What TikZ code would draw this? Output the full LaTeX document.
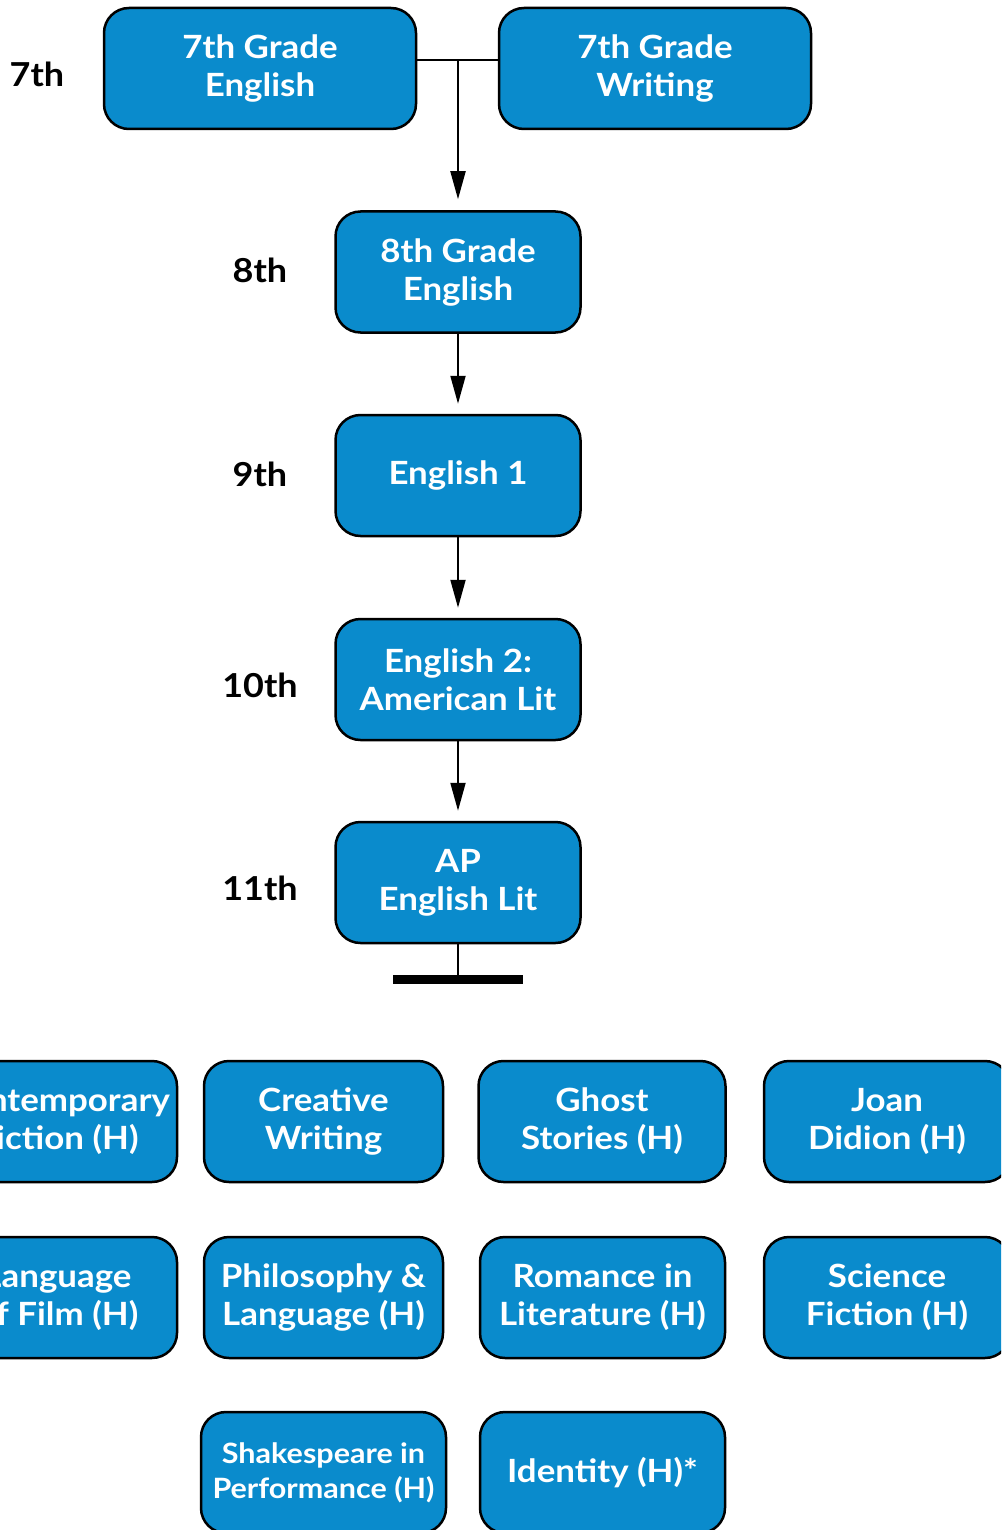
\documentclass[tikz,border=0pt]{standalone}
\usepackage{fontspec}
\setmainfont{Lato}[FakeStretch=1.09]
\usepackage{tikz}
\usetikzlibrary{arrows.meta}
\definecolor{courseblue}{RGB}{10,139,204}

\begin{document}
\begin{tikzpicture}[x=1pt, y=-1pt,
    course/.style={draw=black, line width=2.5pt, fill=courseblue, rounded corners=25pt,
      text=white, align=center, inner sep=0pt,
      font=\fontsize{32}{38}\selectfont\bfseries},
    grade/.style={font=\fontsize{33}{38}\selectfont\bfseries},
    flow/.style={line width=2pt, -{Triangle[length=28pt, width=15pt]}}]

  \clip (0,0) rectangle (1001,1530);

  %% grade labels
  \node[grade] (g7)  at (37,74)   {7th};
  \node[grade] (g8)  at (260,270) {8th};
  \node[grade] (g9)  at (260,474) {9th};
  \node[grade] (g10) at (260,685) {10th};
  \node[grade] (g11) at (260,888) {11th};

  %% required sequence
  \node[course, minimum width=312pt, minimum height=121pt] (eng7) at (260,68.5) {7th Grade\\English};
  \node[course, minimum width=312pt, minimum height=121pt] (wri7) at (655,68.5) {7th Grade\\Writing};
  \node[course, minimum width=245pt, minimum height=121pt] (eng8) at (458,272) {8th Grade\\English};
  \node[course, minimum width=245pt, minimum height=121pt] (eng1) at (458,475.5) {English 1};
  \node[course, minimum width=245pt, minimum height=121pt] (eng2) at (458,679.5) {English 2:\\American Lit};
  \node[course, minimum width=245pt, minimum height=121pt] (aplit) at (458,882.5) {AP\\English Lit};

  \coordinate (join) at (458,60);
  \coordinate (barL) at (393,979.5);
  \coordinate (barR) at (523,979.5);
  \coordinate (bar) at (458,979.5);

  \draw[line width=2pt] (eng7.east |- join) -- (wri7.west |- join); % 7th -- 7th
  \draw[flow, shorten >=11pt] (join) -- (eng8.north);  %% 7th -> 8th
  \draw[flow, shorten >=10pt] (eng8) -- (eng1);        %% 8th -> 9th
  \draw[flow, shorten >=10pt] (eng1) -- (eng2);        %% 9th -> 10th
  \draw[flow, shorten >=10pt] (eng2) -- (aplit);       %% 10th -> 11th
  \draw[line width=2pt] (aplit) -- (bar);
  \draw[line width=9.5pt] (barL) -- (barR);

  %% electives
  \node[course, minimum width=239pt, minimum height=121pt] (cfic) at (57.5,1121.5) {Contemporary\\Fiction (H)};
  \node[course, minimum width=239pt, minimum height=121pt] (cwri) at (323.5,1121.5) {Creative\\Writing};
  \node[course, minimum width=247pt, minimum height=121pt] (ghost) at (602,1121.5) {Ghost\\Stories (H)};
  \node[course, minimum width=246pt, minimum height=121pt] (joan) at (887,1121.5) {Joan\\Didion (H)};

  \node[course, minimum width=239pt, minimum height=121pt] (film) at (57.5,1297.5) {Language\\of Film (H)};
  \node[course, minimum width=239pt, minimum height=121pt] (phil) at (323.5,1297.5) {Philosophy \&\\Language (H)};
  \node[course, minimum width=245pt, minimum height=121pt] (rom) at (602.5,1297.5) {Romance in\\Literature (H)};
  \node[course, minimum width=246pt, minimum height=121pt] (scifi) at (887,1297.5) {Science\\Fiction (H)};

  \node[course, minimum width=245pt, minimum height=121pt, font=\fontsize{28}{35}\selectfont\bfseries] (shak) at (323.5,1472.5) {Shakespeare in\\Performance (H)};
  \node[course, minimum width=245pt, minimum height=121pt] (ident) at (602.5,1472.5) {Identity (H)*};

\end{tikzpicture}
\end{document}
